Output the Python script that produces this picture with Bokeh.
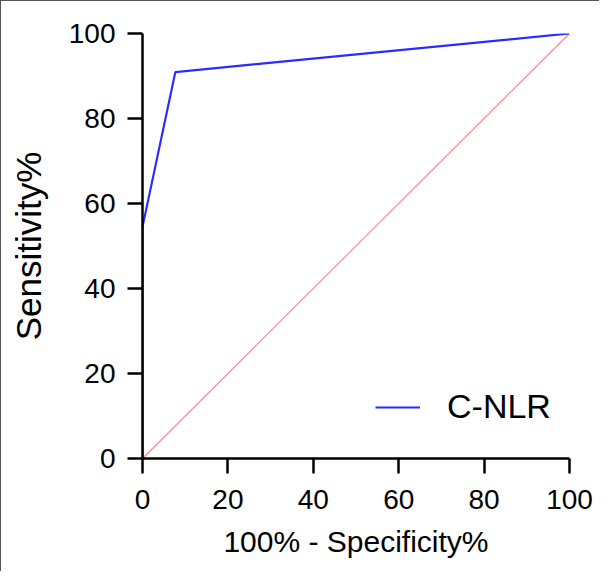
from bokeh.plotting import figure
from bokeh.models import Legend, LegendItem, FixedTicker
from bokeh.embed import file_html
from bokeh.resources import INLINE

# ROC data (100% - Specificity%, Sensitivity%)
fpr = [0, 0, 7.69, 100]
tpr = [0, 54.5, 90.91, 100]
ref_x = [0, 100]
ref_y = [0, 100]
ticks = [0, 20, 40, 60, 80, 100]
series_name = "C-NLR"

FONT = "Liberation Sans"

p = figure(output_backend="svg", toolbar_location=None,
           x_range=(0, 100), y_range=(0, 100),
           frame_width=427, frame_height=425,
           min_border_left=141, min_border_right=30,
           min_border_top=32, min_border_bottom=113)
p.styles = {"border-left": "1px solid #555", "border-top": "1px solid #555"}
p.outline_line_color = None
p.grid.visible = False
p.background_fill_color = "white"
p.border_fill_color = "white"

ref = p.line(ref_x, ref_y, line_color="#FF8A8A", line_width=1.2)
roc = p.line(fpr, tpr, line_color="#2B2BFF", line_width=2.2)

for ax in (p.xaxis[0], p.yaxis[0]):
    ax.ticker = FixedTicker(ticks=ticks)
    ax.minor_tick_line_color = None
    ax.axis_line_width = 2.5
    ax.axis_line_color = "black"
    ax.major_tick_line_width = 2.5
    ax.major_tick_line_color = "black"
    ax.major_tick_out = 15
    ax.major_tick_in = 0
    ax.major_label_text_font = FONT
    ax.major_label_text_font_size = "28px"
    ax.major_label_text_color = "black"
    ax.axis_label_text_font = FONT
    ax.axis_label_text_font_style = "normal"
    ax.axis_label_text_color = "black"

p.xaxis[0].axis_label = "100% - Specificity%"
p.yaxis[0].axis_label = "Sensitivity%"
p.xaxis[0].axis_label_text_font_size = "30px"
p.yaxis[0].axis_label_text_font_size = "35px"
p.xaxis[0].major_label_standoff = 16
p.yaxis[0].major_label_standoff = 12
p.xaxis[0].axis_label_standoff = 13
p.yaxis[0].axis_label_standoff = 18

legend = Legend(items=[LegendItem(label=series_name, renderers=[roc])],
                location=(233, 32), padding=0, spacing=0, margin=0,
                glyph_width=45, glyph_height=34, label_standoff=27,
                label_text_font=FONT, label_text_font_size="34px",
                label_text_color="black",
                border_line_color=None, background_fill_alpha=0)
p.add_layout(legend, "center")

open("out.html", "w").write(file_html(p, INLINE))
